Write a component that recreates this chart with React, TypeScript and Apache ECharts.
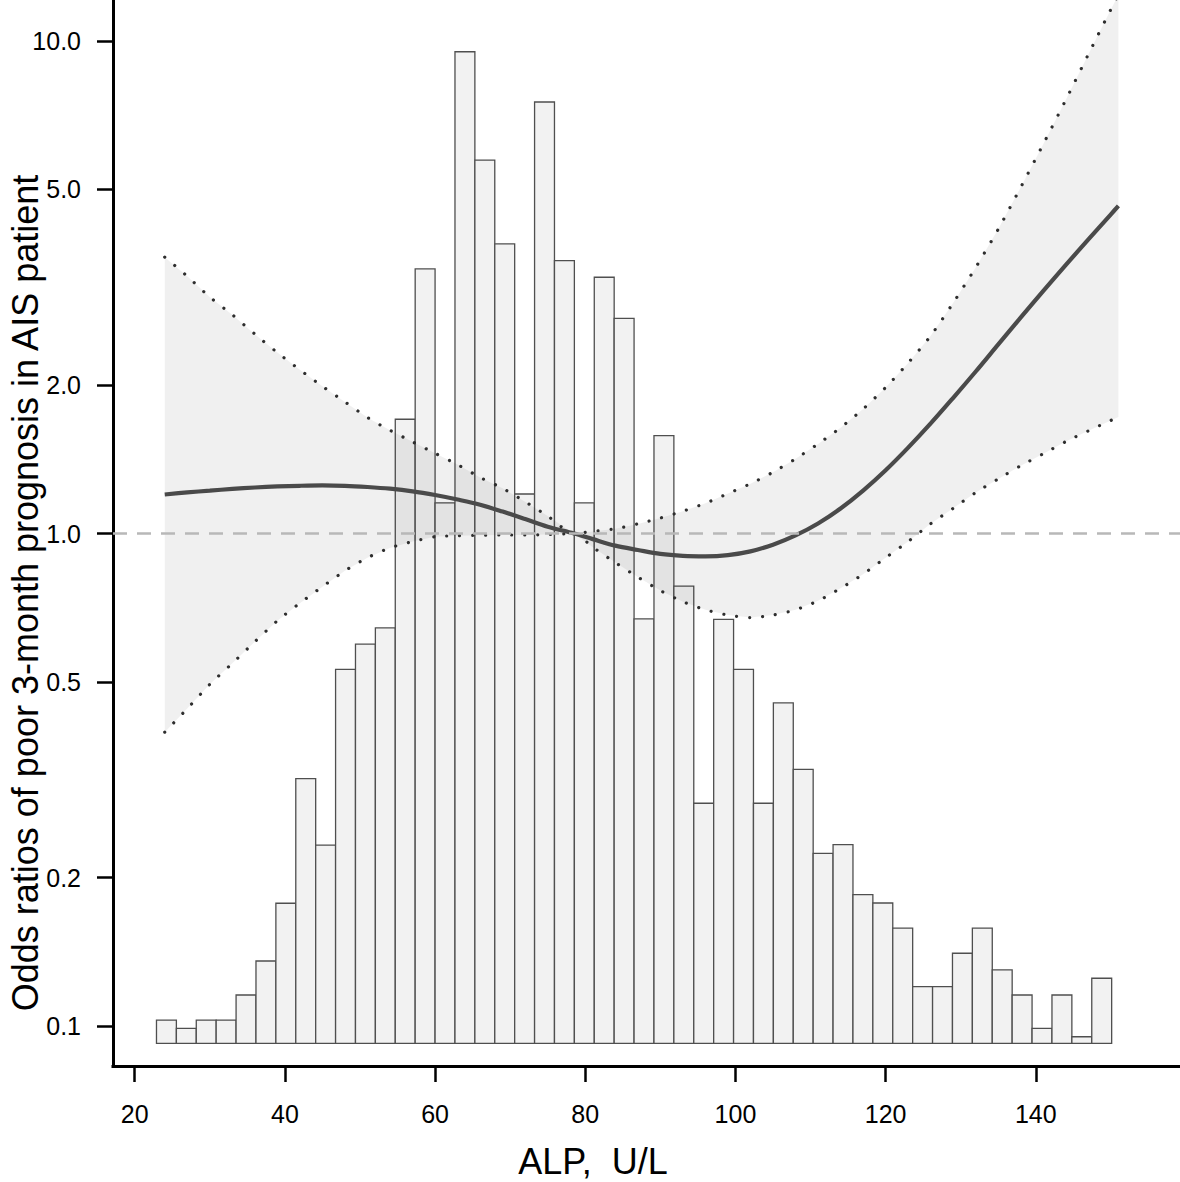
import React, { useEffect, useRef } from "react";
import * as echarts from "echarts";

// ---------- data ----------
// histogram of ALP (drawn in the same log space as the odds ratios)
const histBinStart = 22.9;
const histBinWidth = 2.65;
const histBase = 0.0922;
const histHeights = [
  0.1028, 0.0989, 0.1028, 0.1028, 0.1156, 0.1355, 0.1775, 0.318, 0.233, 0.53,
  0.596, 0.643, 1.706, 3.445, 1.154, 9.51, 5.73, 3.875, 1.203, 7.52,
  3.58, 1.154, 3.314, 2.734, 0.671, 1.581, 0.782, 0.2833, 0.6695, 0.53,
  0.2833, 0.453, 0.332, 0.2242, 0.2334, 0.1848, 0.1777, 0.158, 0.1202, 0.1202,
  0.1405, 0.158, 0.13, 0.1156, 0.0989, 0.1156, 0.0951, 0.125,
];

// restricted cubic spline: ALP values and odds ratios with 95% CI
const curveX = [
  24, 27, 30, 33, 36, 39, 42, 45, 48, 51, 54, 57, 60, 63, 66, 69, 72, 75, 78.5,
  81, 84, 87, 90, 93, 96, 99, 102, 105, 108, 111, 114, 117, 120, 123, 126, 129,
  132, 135, 138, 141, 144, 147, 150, 151,
];
const orValues = [
  1.2, 1.212, 1.222, 1.232, 1.24, 1.246, 1.25, 1.252, 1.25, 1.243, 1.233, 1.218,
  1.197, 1.172, 1.144, 1.108, 1.07, 1.032, 1.0, 0.974, 0.945, 0.926, 0.909, 0.901,
  0.899, 0.904, 0.92, 0.949, 0.991, 1.048, 1.124, 1.222, 1.344, 1.494, 1.673,
  1.886, 2.133, 2.421, 2.746, 3.109, 3.511, 3.955, 4.448, 4.625,
];
const ciUpper = [
  3.64, 3.33, 3.02, 2.78, 2.54, 2.33, 2.15, 1.99, 1.85, 1.72, 1.62, 1.535, 1.455,
  1.38, 1.3, 1.235, 1.16, 1.085, 1.0, 1.01, 1.022, 1.046, 1.075, 1.11, 1.152,
  1.205, 1.262, 1.332, 1.418, 1.52, 1.64, 1.79, 1.98, 2.22, 2.52, 2.94, 3.47,
  4.15, 5.05, 6.18, 7.6, 9.4, 11.6, 12.4,
];
const ciLower = [
  0.395, 0.441, 0.494, 0.545, 0.603, 0.665, 0.722, 0.78, 0.84, 0.893, 0.935,
  0.963, 0.985, 0.99, 0.992, 0.993, 0.993, 0.995, 1.0, 0.938, 0.873, 0.816,
  0.766, 0.727, 0.7, 0.683, 0.675, 0.683, 0.7, 0.73, 0.774, 0.827, 0.893, 0.963,
  1.047, 1.125, 1.211, 1.291, 1.373, 1.452, 1.537, 1.616, 1.697, 1.725,
];

const referenceOR = 1;
const xTicks = [20, 40, 60, 80, 100, 120, 140];
const yTicks = [0.1, 0.2, 0.5, 1, 2, 5, 10];
const xAxisMin = 17.11;
const xAxisMax = 159.2;
const yAxisMin = 0.08294;
const yAxisMax = 12.114;

const xTitle = "ALP,  U/L";
const yTitle = "Odds ratios of poor 3-month prognosis in AIS patient";

export default function App() {
  const ref = useRef<HTMLDivElement>(null);

  useEffect(() => {
    if (!ref.current) return;
    const chart = echarts.init(ref.current, null, { renderer: "svg" });
    const font = "'Liberation Sans', Arial, Helvetica, sans-serif";

    const histData = histHeights.map((h, i) => [
      histBinStart + i * histBinWidth,
      histBinStart + (i + 1) * histBinWidth,
      h,
    ]);
    const bandData = curveX.map((x, i) => [x, ciLower[i], ciUpper[i]]);
    const dotted = {
      color: "#2e2e2e",
      width: 3.2,
      type: [0.01, 13],
      cap: "round",
    };

    chart.setOption({
      animation: false,
      backgroundColor: "#ffffff",
      grid: { left: 113, right: 0, top: 0, bottom: 116, containLabel: false },
      xAxis: {
        type: "value",
        min: xAxisMin,
        max: xAxisMax,
        axisLine: {
          show: true,
          onZero: false,
          lineStyle: { color: "#000", width: 3, cap: "square" },
        },
        axisTick: {
          show: true,
          customValues: xTicks,
          length: 16,
          lineStyle: { color: "#000", width: 2.5 },
        },
        axisLabel: {
          customValues: xTicks,
          fontSize: 25,
          color: "#000",
          fontFamily: font,
          margin: 35,
        },
        splitLine: { show: false },
      },
      yAxis: {
        type: "log",
        logBase: 10,
        min: yAxisMin,
        max: yAxisMax,
        axisLine: {
          show: true,
          lineStyle: { color: "#000", width: 3, cap: "square" },
        },
        axisTick: {
          show: true,
          customValues: yTicks,
          length: 16,
          lineStyle: { color: "#000", width: 2.5 },
        },
        axisLabel: {
          customValues: yTicks,
          formatter: (v: number) => Number(v).toFixed(1),
          fontSize: 25,
          color: "#000",
          fontFamily: font,
          margin: 32,
        },
        splitLine: { show: false },
        minorTick: { show: false },
        minorSplitLine: { show: false },
      },
      graphic: [
        {
          type: "text",
          x: 25,
          y: 593,
          rotation: Math.PI / 2,
          style: {
            text: yTitle,
            fontSize: 36,
            fontFamily: font,
            fill: "#000",
            align: "center",
            verticalAlign: "middle",
          },
        },
        {
          type: "text",
          x: 593,
          y: 1161,
          style: {
            text: xTitle,
            fontSize: 36,
            fontFamily: font,
            fill: "#000",
            align: "center",
            verticalAlign: "middle",
          },
        },
      ],
      series: [
        {
          type: "custom",
          name: "histogram",
          z: 1,
          clip: true,
          silent: true,
          encode: { x: [0, 1], y: 2 },
          data: histData,
          renderItem: (params: any, api: any) => {
            const tl = api.coord([api.value(0), api.value(2)]);
            const br = api.coord([api.value(1), histBase]);
            return {
              type: "rect",
              shape: {
                x: tl[0],
                y: tl[1],
                width: br[0] - tl[0],
                height: br[1] - tl[1],
              },
              style: { fill: "#f2f2f2", stroke: "#4f4f4f", lineWidth: 1.3 },
            };
          },
        },
        {
          type: "custom",
          name: "ci band",
          z: 2,
          clip: true,
          silent: true,
          encode: { x: 0, y: [1, 2] },
          data: bandData,
          renderItem: (params: any, api: any) => {
            if (params.dataIndex !== 0) return null;
            const pts: number[][] = [];
            for (let i = 0; i < curveX.length; i++) {
              pts.push(api.coord([curveX[i], ciUpper[i]]));
            }
            for (let i = curveX.length - 1; i >= 0; i--) {
              pts.push(api.coord([curveX[i], ciLower[i]]));
            }
            return {
              type: "polygon",
              shape: { points: pts },
              style: { fill: "rgba(0,0,0,0.06)" },
            };
          },
        },
        {
          type: "line",
          name: "upper CI",
          z: 3,
          smooth: 0.25,
          showSymbol: false,
          silent: true,
          data: curveX.map((x, i) => [x, ciUpper[i]]),
          lineStyle: dotted,
        },
        {
          type: "line",
          name: "lower CI",
          z: 3,
          smooth: 0.25,
          showSymbol: false,
          silent: true,
          data: curveX.map((x, i) => [x, ciLower[i]]),
          lineStyle: dotted,
        },
        {
          type: "line",
          name: "OR",
          z: 4,
          smooth: 0.35,
          showSymbol: false,
          silent: true,
          data: curveX.map((x, i) => [x, orValues[i]]),
          lineStyle: { color: "#4a4a4a", width: 4.2 },
          markLine: {
            silent: true,
            symbol: ["none", "none"],
            label: { show: false },
            lineStyle: { color: "#b8b8b8", width: 2.5, type: [14, 10] },
            data: [{ yAxis: referenceOR }],
          },
        },
      ],
    });

    return () => chart.dispose();
  }, []);

  return (
    <div
      ref={ref}
      style={{ position: "absolute", left: 0, top: 0, width: 1180, height: 1182 }}
    />
  );
}
